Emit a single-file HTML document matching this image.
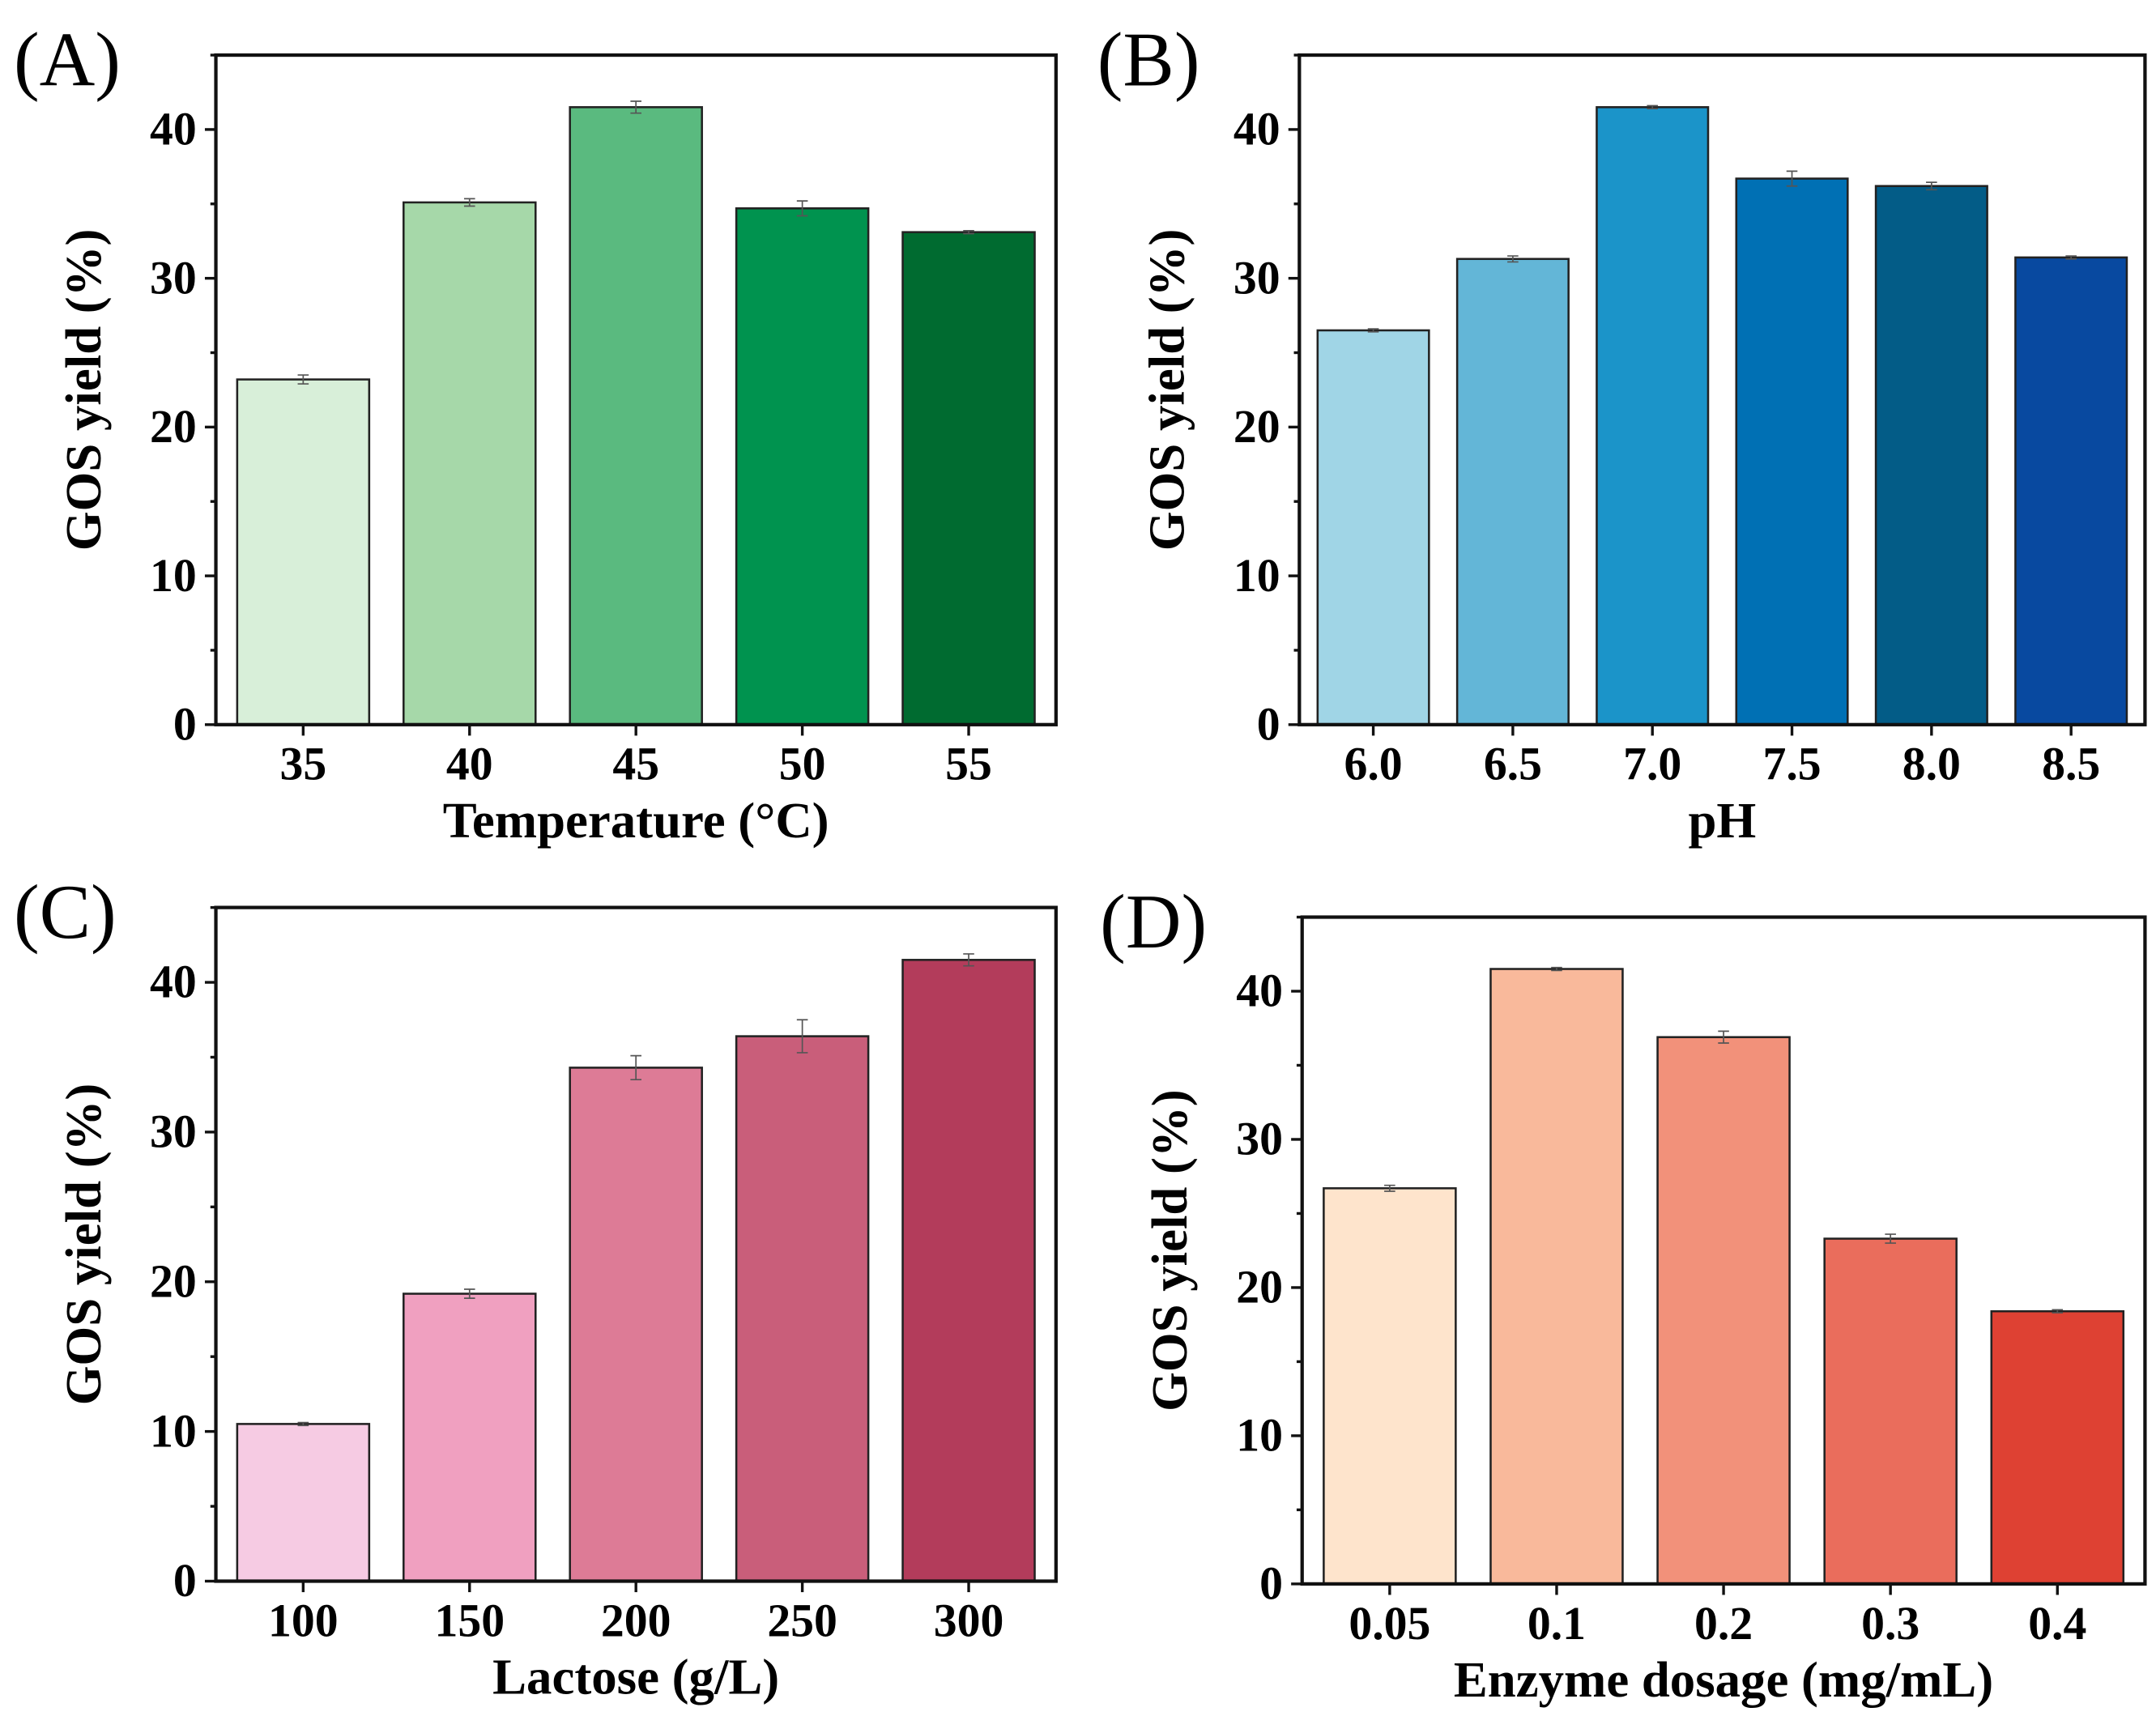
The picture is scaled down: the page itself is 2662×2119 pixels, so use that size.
<!DOCTYPE html>
<html><head><meta charset="utf-8"><style>
html,body{margin:0;padding:0;background:#fff;}
svg{display:block;}
text{font-family:"Liberation Serif",serif;}
</style></head><body>
<svg id="fig" width="2662" height="2119" viewBox="0 0 1568 1248" xmlns="http://www.w3.org/2000/svg"></svg>
<script>
const catsA=["35","40","45","50","55"];
const valsA=[23.2,35.1,41.5,34.7,33.1];
const errA=[0.3,0.25,0.4,0.5,0.1];
const colA=["#d8efd9","#a6d8a9","#5aba7f","#00934f","#006b30"];
const catsB=["6.0","6.5","7.0","7.5","8.0","8.5"];
const valsB=[26.5,31.3,41.5,36.7,36.2,31.4];
const errB=[0.1,0.2,0.1,0.5,0.25,0.1];
const colB=["#a0d5e6","#63b6d7","#1b94c9","#0070b4","#035c87","#0849a0"];
const catsC=["100","150","200","250","300"];
const valsC=[10.5,19.2,34.3,36.4,41.5];
const errC=[0.1,0.3,0.8,1.1,0.4];
const colC=["#f6cbe3","#f0a0c0","#dd7b96","#c95e7a","#b33c5b"];
const catsD=["0.05","0.1","0.2","0.3","0.4"];
const valsD=[26.7,41.5,36.9,23.3,18.4];
const errD=[0.2,0.1,0.4,0.3,0.1];
const colD=["#fee4cc","#f9b99b","#f2917a","#ea6d5c","#de4133"];
const yTicks=[0,10,20,30,40];
const yMax=45;

const NS="http://www.w3.org/2000/svg";
const svg=document.getElementById('fig');
function mk(tag,attrs,parent){const e=document.createElementNS(NS,tag);for(const k in attrs)e.setAttribute(k,attrs[k]);(parent||svg).appendChild(e);return e;}

function panel(id,letter,cats,vals,errs,cols,box,xtitle,bw){
  const g=mk('g',{});
  
  
  const L=box.l,R=box.r,T=box.t,B=box.b;
  const y=v=>B-(v/yMax)*(B-T);
  const step=(R-L-6)/cats.length;
  const x=i=>L+3+step*(i+0.5);
  const lab=mk('text',{x:L-147,y:T+22,'font-size':56},g);lab.textContent='('+letter+')';
  
  
  cats.forEach((c,i)=>{
    const r=mk('rect',{x:x(i)-bw/2,y:y(vals[i]),width:bw,height:B-y(vals[i]),fill:cols[i],stroke:'#222','stroke-width':1.5},g);
    
    
    const e=mk('path',{d:`M${x(i)} ${y(vals[i]+errs[i])}V${y(vals[i]-errs[i])}M${x(i)-4} ${y(vals[i]+errs[i])}h8M${x(i)-4} ${y(vals[i]-errs[i])}h8`,stroke:'#555','stroke-width':1,fill:'none'},g);
    
    
    mk('line',{x1:x(i),x2:x(i),y1:B,y2:B+8,stroke:'#111','stroke-width':2},g);
    const t=mk('text',{x:x(i),y:B+40,'font-size':34,'font-weight':'bold','text-anchor':'middle'},g);t.textContent=c;
    
    
  });
  yTicks.forEach(v=>{
    mk('line',{x1:L,x2:L-8,y1:y(v),y2:y(v),stroke:'#111','stroke-width':2},g);
    mk('line',{x1:L,x2:L-4,y1:y(v+5),y2:y(v+5),stroke:'#111','stroke-width':2},g);
    const t=mk('text',{x:L-14,y:y(v)+11,'font-size':34,'font-weight':'bold','text-anchor':'end'},g);t.textContent=v;
    
    
  });
  const fr=mk('rect',{x:L,y:T,width:R-L,height:B-T,fill:'none',stroke:'#111','stroke-width':2.5},g);
  
  
  const yt=mk('text',{transform:`translate(${L-84},${(T+B)/2}) rotate(-90)`,'font-size':37,'font-weight':'bold','text-anchor':'middle'},g);yt.textContent='GOS yield (%)';
  
  
  const xt=mk('text',{x:(L+R)/2,y:B+82,'font-size':37,'font-weight':'bold','text-anchor':'middle'},g);xt.textContent=xtitle;
  
  
}
panel('a','A',catsA,valsA,errA,colA,{l:157,r:768,t:40,b:527},'Temperature (°C)',96);
panel('b','B',catsB,valsB,errB,colB,{l:945,r:1560,t:40,b:527},'pH',81);
panel('c','C',catsC,valsC,errC,colC,{l:157,r:768,t:660,b:1150},'Lactose (g/L)',96);
panel('d','D',catsD,valsD,errD,colD,{l:947,r:1560,t:667,b:1152},'Enzyme dosage (mg/mL)',96);
</script>
</body></html>
